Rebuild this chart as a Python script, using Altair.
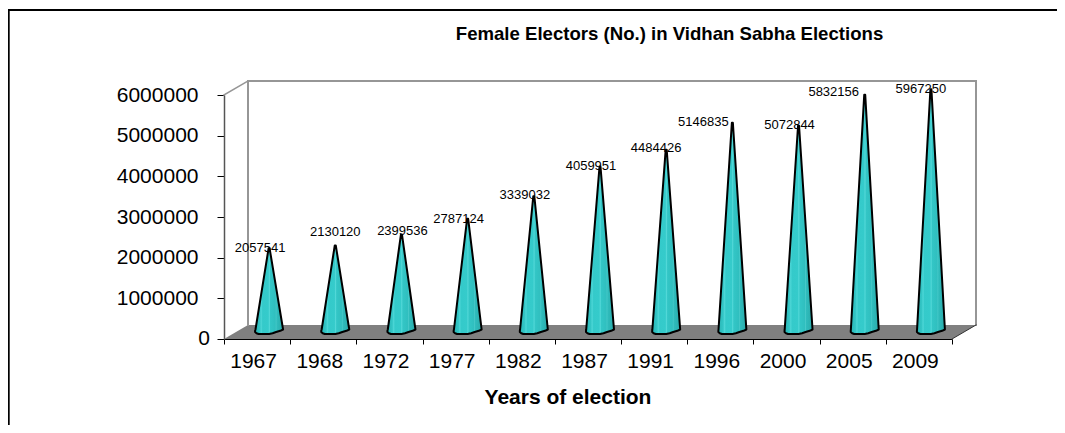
import altair as alt
import pandas as pd

years = ["1967", "1968", "1972", "1977", "1982", "1987", "1991", "1996", "2000", "2005", "2009"]
electors = [2057541, 2130120, 2399536, 2787124, 3339032, 4059951, 4484426, 5146835, 5072844, 5832156, 5967250]
label_dx = [-9, 0, 1, -9, -9, -9, -10, -29, -9, -31, -10]
label_dy = [4, -9, 1, 4, 3, 3, 2, 3, 3, 1, 4]

FONT = "Liberation Sans"
PLOT_W, PLOT_H = 728, 244
LEFT, TOP = 224, 95
DEPTH_X, DEPTH_Y = 24, 14
Y_MAX = 6000000
UNITS_PER_PX = Y_MAX / PLOT_H
BAND = PLOT_W / len(years)


def px(v):
    return v - LEFT


def py(v):
    return v - TOP


cone_x_scale = alt.Scale(domain=[0, len(years)], range=[DEPTH_X / 2, PLOT_W + DEPTH_X / 2])
cone_y_scale = alt.Scale(domain=[0, Y_MAX], range=[PLOT_H - DEPTH_Y / 2, -DEPTH_Y / 2])

cone_rows = []
HALF = 14.0 / BAND
TIP = 0.5 / BAND
for i, (yr, v) in enumerate(zip(years, electors)):
    c = i + 0.5
    side = 2.5 * UNITS_PER_PX
    frac = side / v
    cone_rows += [
        dict(year=yr, v=v, x=c - TIP, x2=c + TIP),
        dict(year=yr, v=side, x=c - HALF * (1 - frac) - TIP * frac, x2=c + HALF),
        dict(year=yr, v=1.2 * UNITS_PER_PX, x=c - HALF * 1.0, x2=c + HALF * 0.8),
        dict(year=yr, v=0, x=c - HALF, x2=c + HALF * 0.5),
        dict(year=yr, v=-1.2 * UNITS_PER_PX, x=c - HALF * 0.9, x2=c + HALF * 0.25),
        dict(year=yr, v=-2.0 * UNITS_PER_PX, x=c - HALF * 0.75, x2=c + HALF * 0.0),
    ]
cones = pd.DataFrame(cone_rows)
values = pd.DataFrame({"year": years, "value": electors, "pos": [i + 0.5 for i in range(len(years))]})

shade = alt.Gradient(
    gradient="linear", x1=0, x2=1, y1=0, y2=0,
    stops=[
        alt.GradientStop(offset=0.0, color="#2ab4b4"),
        alt.GradientStop(offset=0.17, color="#33c6c6"),
        alt.GradientStop(offset=0.22, color="#4cd6d6"),
        alt.GradientStop(offset=0.27, color="#34caca"),
        alt.GradientStop(offset=0.47, color="#35cbcb"),
        alt.GradientStop(offset=0.51, color="#52d8d8"),
        alt.GradientStop(offset=0.55, color="#33c6c6"),
        alt.GradientStop(offset=0.72, color="#30bfbf"),
        alt.GradientStop(offset=0.75, color="#46c9c9"),
        alt.GradientStop(offset=0.78, color="#2fbcbc"),
        alt.GradientStop(offset=1.0, color="#2aa9a9"),
    ],
)

PXX = alt.X("x:Q", scale=None, axis=None)
PXY = alt.Y("y:Q", scale=None, axis=None)


def polyline(points, color, width):
    d = pd.DataFrame([dict(x=px(a), y=py(b), o=k) for k, (a, b) in enumerate(points)])
    return alt.Chart(d).mark_line(color=color, strokeWidth=width, clip=False, strokeCap="square").encode(
        x=PXX, y=PXY, order="o:Q")


floor_df = pd.DataFrame([
    dict(y=py(TOP + PLOT_H - DEPTH_Y), x=px(LEFT + DEPTH_X), x2=px(LEFT + DEPTH_X + PLOT_W)),
    dict(y=py(TOP + PLOT_H), x=px(LEFT), x2=px(LEFT + PLOT_W)),
])
floor = alt.Chart(floor_df).mark_area(orient="horizontal", color="#808080").encode(
    y=PXY, x=PXX, x2="x2:Q")

frame = polyline([(8.7, 433), (8.7, 10), (1065, 10)], "#000000", 2)
back_wall = polyline(
    [(LEFT + DEPTH_X, TOP + PLOT_H - DEPTH_Y), (LEFT + DEPTH_X, TOP - DEPTH_Y),
     (LEFT + DEPTH_X + PLOT_W, TOP - DEPTH_Y), (LEFT + DEPTH_X + PLOT_W, TOP + PLOT_H - DEPTH_Y)],
    "#969696", 2)
side_top = polyline([(LEFT, TOP), (LEFT + DEPTH_X, TOP - DEPTH_Y)], "#969696", 1.5)
side_right = polyline([(LEFT + PLOT_W, TOP + PLOT_H), (LEFT + DEPTH_X + PLOT_W, TOP + PLOT_H - DEPTH_Y)], "#333333", 1)

axes = alt.Chart(values).mark_point(opacity=0).encode(
    x=alt.X(
        "year:N",
        scale=alt.Scale(type="band", domain=years, paddingInner=0, paddingOuter=0),
        axis=alt.Axis(
            title="Years of election", titleFont=FONT, titleFontSize=21, titleFontWeight="bold",
            titleColor="#000000", titleX=343.5, titleY=64, titleAlign="center", titleBaseline="alphabetic",
            labelFont=FONT, labelFontSize=21, labelColor="#000000", labelAngle=0, labelPadding=6,
            labelOffset=-4, tickBand="extent", tickSize=5, tickColor="#000000", domainColor="#000000",
            grid=False, labelBaseline="top",
        ),
    ),
    y=alt.Y(
        "value:Q",
        scale=alt.Scale(domain=[0, Y_MAX], nice=False),
        axis=alt.Axis(
            title=None, values=list(range(0, Y_MAX + 1, 1000000)), format="d",
            labelExpr="datum.value === 0 ? '' : datum.label",
            labelFont=FONT, labelFontSize=21, labelColor="#000000", labelPadding=19,
            tickSize=7, tickColor="#000000", domainColor="#555555", domainWidth=1.5, grid=False,
        ),
    ),
)

zero_label = alt.Chart(pd.DataFrame({"t": ["0"], "v": [0]})).mark_text(
    font=FONT, fontSize=21, color="#000000", align="right", baseline="middle"
).encode(
    x=alt.value(-14),
    y=alt.Y("v:Q", scale=alt.Scale(domain=[0, Y_MAX], nice=False), axis=None),
    text="t:N",
)

title_text = alt.Chart(pd.DataFrame({"t": ["Female Electors (No.) in Vidhan Sabha Elections"]})).mark_text(
    font=FONT, fontSize=18.6, fontWeight="bold", color="#000000", align="center", baseline="alphabetic"
).encode(x=alt.value(px(669.5)), y=alt.value(py(40)), text="t:N")

cone_layer = alt.Chart(cones).mark_area(
    orient="horizontal", fill=shade, stroke="#000000", strokeWidth=2, strokeJoin="round", opacity=1
).encode(
    y=alt.Y("v:Q", scale=cone_y_scale, axis=None),
    x=alt.X("x:Q", scale=cone_x_scale, axis=None),
    x2="x2:Q",
    detail="year:N",
)

text_layers = []
for i, yr in enumerate(years):
    text_layers.append(
        alt.Chart(values[values.year == yr]).mark_text(
            font=FONT, fontSize=13, color="#000000", align="center", baseline="alphabetic",
            dx=label_dx[i], dy=label_dy[i],
        ).encode(
            x=alt.X("pos:Q", scale=cone_x_scale, axis=None),
            y=alt.Y("value:Q", scale=cone_y_scale, axis=None),
            text=alt.Text("value:Q", format="d"),
        )
    )

chart = alt.layer(
    frame, floor, back_wall, side_top, side_right, axes, zero_label, title_text, cone_layer, *text_layers
).resolve_scale(x="independent", y="independent").properties(
    width=PLOT_W,
    height=PLOT_H,
    autosize="none",
    padding={"left": 216, "top": 87, "right": 105, "bottom": 86},
    background="#ffffff",
).configure_view(stroke=None, strokeWidth=0)

chart.save("out.html", embed_options={"renderer": "svg", "actions": False})
